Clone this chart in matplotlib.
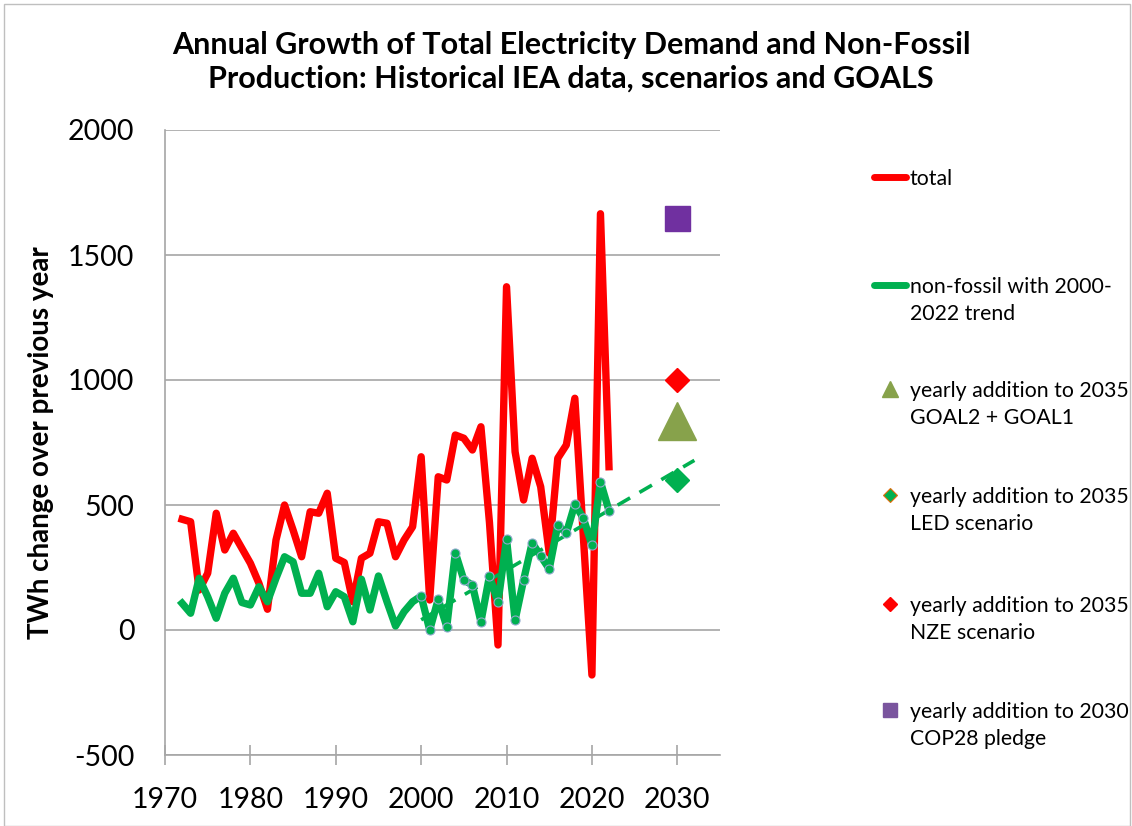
import matplotlib
matplotlib.use("Agg")
import matplotlib.pyplot as plt
import numpy as np
from matplotlib.patches import Rectangle

plt.rcParams["font.family"] = ["Lato", "DejaVu Sans"]
plt.rcParams["axes.unicode_minus"] = False

# annual change in TWh
years = np.arange(1972, 2023)
total = [443, 433, 160, 227, 467, 320, 387, 327, 267, 187, 83, 360, 500, 400,
         293, 473, 467, 547, 287, 270, 113, 287, 307, 433, 427, 293, 360, 413,
         693, 120, 613, 600, 780, 767, 720, 813, 430, -60, 1373, 713, 520, 687,
         573, 307, 687, 740, 927, 371, -180, 1665, 653]
non_fossil = [107, 67, 207, 133, 47, 147, 207, 110, 100, 173, 113, 207, 293, 273,
              147, 147, 227, 93, 153, 133, 33, 203, 80, 216, 113, 16, 73, 113,
              136, 0, 123, 13, 309, 200, 180, 33, 216, 111, 363, 40, 200, 349,
              296, 244, 420, 387, 503, 447, 339, 593, 477]
trend_start, trend_end = 2000, 2032

goal_year = 2030
cop28 = 1648
nze = 1000
goals = 836
led = 600

legend_labels = [
    "total",
    "non-fossil with 2000-\n2022 trend",
    "yearly addition to 2035\nGOAL2 + GOAL1",
    "yearly addition to 2035\nLED scenario",
    "yearly addition to 2035\nNZE scenario",
    "yearly addition to 2030\nCOP28 pledge",
]

RED = "#FF0000"
GREEN = "#00B050"
OLIVE = "#87A24B"
PURPLE = "#7030A0"
GRID = "#A6A6A6"

fig = plt.figure(figsize=(11.32, 8.26), dpi=100)
W, H = 1132, 826
ax = fig.add_axes([165 / W, 1 - 755 / H, 555 / W, 625 / H])

ax.plot(years, total, color=RED, lw=5.3, solid_joinstyle="round", zorder=3)
ax.plot(years, non_fossil, color=GREEN, lw=5.3, solid_joinstyle="round", zorder=4)

sel = years >= trend_start
ax.plot(years[sel], np.array(non_fossil)[sel], ls="none", marker="o", ms=6.5,
        mfc=GREEN, mec="#8EA9CC", mew=0.8, zorder=5)
coef = np.polyfit(years[sel], np.array(non_fossil)[sel], 1)
tx = np.array([trend_start, trend_end])
ax.plot(tx, np.polyval(coef, tx), color=GREEN, lw=2.6, dashes=(4, 3), zorder=4)

ax.plot([goal_year], [cop28], ls="none", marker="s", ms=18, color=PURPLE, zorder=6)
ax.plot([goal_year], [nze], ls="none", marker="D", ms=12, color=RED, zorder=6)
ax.plot([goal_year], [goals], ls="none", marker="^", ms=27, color=OLIVE, zorder=6)
ax.plot([goal_year], [led], ls="none", marker="D", ms=12.5, color=GREEN, zorder=6)

ax.set_xlim(1970, 2035)
ax.set_ylim(-500, 2000)
ax.set_xticks(np.arange(1970, 2031, 10))
ax.set_yticks(np.arange(-500, 2001, 500))
ax.yaxis.grid(True, color=GRID, lw=1.2)
ax.set_axisbelow(True)
for s in ["top", "right"]:
    ax.spines[s].set_visible(False)
for s in ["left", "bottom"]:
    ax.spines[s].set_color(GRID)
    ax.spines[s].set_linewidth(1.2)
ax.tick_params(axis="x", direction="inout", length=14, width=1.2, color=GRID,
               labelsize=20.5, pad=16)
ax.tick_params(axis="y", length=0, labelsize=20.5, pad=22)
ax.set_ylabel("TWh change over previous year", fontsize=20, fontweight="bold",
              labelpad=10)

fig.text(571 / W, 1 - 62 / H,
         "Annual Growth of Total Electricity Demand and Non-Fossil\n"
         "Production: Historical IEA data, scenarios and GOALS",
         ha="center", va="center", fontsize=22, fontweight="bold",
         linespacing=1.25)

# legend drawn in figure pixel space
lax = fig.add_axes([0, 0, 1, 1], zorder=10)
lax.set_xlim(0, W)
lax.set_ylim(H, 0)
lax.axis("off")
rows = [177, 285, 389, 495, 604, 710]
lax.plot([874, 906], [rows[0]] * 2, color=RED, lw=5, solid_capstyle="round")
lax.plot([874, 906], [rows[1]] * 2, color=GREEN, lw=5, solid_capstyle="round")
lax.plot([890], [rows[2]], marker="^", ms=11, color=OLIVE)
lax.plot([890], [rows[3]], marker="D", ms=7, mfc=GREEN, mec="#E46C0A", mew=0.8)
lax.plot([890], [rows[4]], marker="D", ms=7, color=RED)
lax.plot([890], [rows[5]], marker="s", ms=10, color="#7A559E")
for y, lab in zip(rows, legend_labels):
    lax.text(910, y - 8, lab, ha="left", va="top", fontsize=15.3,
             linespacing=1.45)

fig.add_artist(Rectangle((4 / W, 0), 1126 / W, 1 - 4 / H, transform=fig.transFigure,
                         fill=False, ec="#BFBFBF", lw=1))

fig.savefig("out.png", dpi=100)
